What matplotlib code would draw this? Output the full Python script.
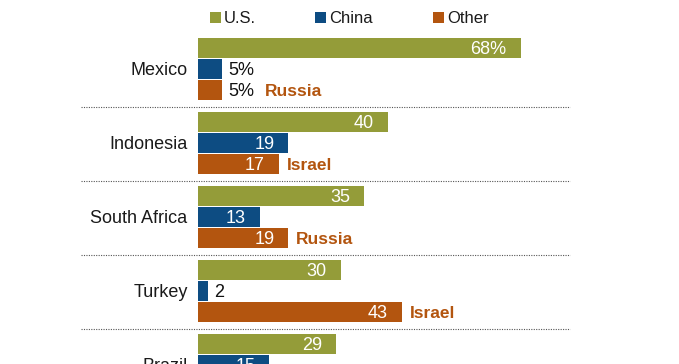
import matplotlib
matplotlib.use("Agg")
import matplotlib.pyplot as plt
from matplotlib.patches import Rectangle

plt.rcParams['font.family'] = ['Liberation Sans', 'DejaVu Sans']

COLORS = {
    'U.S.':  '#949C39',
    'China': '#0D4C82',
    'Other': '#B3550F',
}

countries = ['Mexico', 'Indonesia', 'South Africa', 'Turkey', 'Brazil']
us_vals = [68, 40, 35, 30, 29]
china_vals = [5, 19, 13, 2, 15]
other_vals = [5, 17, 19, 43, None]   # Brazil's third bar is cut off
other_names = ['Russia', 'Israel', 'Russia', 'Israel', '']

W, H = 679, 364
fig = plt.figure(figsize=(W / 100, H / 100), dpi=100)
ax = fig.add_axes([0, 0, 1, 1])

# axes in "pixel-ish" units: x = percent, y = pixels from top
x0 = 198.3          # pixel where bars start
ppu = 4.74          # pixels per percentage point
def px(p):
    return (p - x0) / ppu

ax.set_xlim(px(0), px(W))
ax.set_ylim(H, 0)
ax.axis('off')

group_step = 74
bar_step = 21
first_center = 48
bar_h = 19.6

fig.canvas.draw()
renderer = fig.canvas.get_renderer()

for g, country in enumerate(countries):
    top = first_center + g * group_step
    suffix = '%' if g == 0 else ''
    series = [('U.S.', us_vals[g]), ('China', china_vals[g]), ('Other', other_vals[g])]

    ax.text(px(187.5), top + bar_step + 6.4, country, ha='right', va='baseline',
            fontsize=13, color='#1a1a1a')

    for k, (name, val) in enumerate(series):
        if val is None:
            continue
        yc = top + k * bar_step
        ax.barh(yc, val, height=bar_h, left=0, color=COLORS[name], edgecolor='none')
        label = f'{val}{suffix}'
        if val >= 10:
            t = ax.text(val - 14 / ppu, yc + 6.4, label, ha='right', va='baseline',
                        fontsize=13, color='white')
            end_px = x0 + val * ppu
        else:
            t = ax.text(val + 6 / ppu, yc + 6.4, label, ha='left', va='baseline',
                        fontsize=13, color='#111111')
            bb = t.get_window_extent(renderer=renderer)
            end_px = bb.x1 + 3
        if name == 'Other' and other_names[g]:
            ax.text(px(end_px + 8), yc + 6.2, other_names[g], ha='left', va='baseline',
                    fontsize=12.5, fontweight='bold', color=COLORS['Other'])

    if g < len(countries) - 1:
        ysep = top + 2 * bar_step + 16.5
        ax.plot([px(81), px(570)], [ysep, ysep], color='#555555', lw=0.8,
                linestyle=(0, (1, 1.2)))

# legend
legend_x = [210, 315, 433]
for (name, col), lx in zip(COLORS.items(), legend_x):
    ax.add_patch(Rectangle((px(lx), 12.3), 10.5 / ppu, 10.4, color=col, lw=0))
    ax.text(px(lx + 14), 22.7, name, ha='left', va='baseline', fontsize=12,
            color='#1a1a1a')

fig.savefig('out.png', dpi=100)
